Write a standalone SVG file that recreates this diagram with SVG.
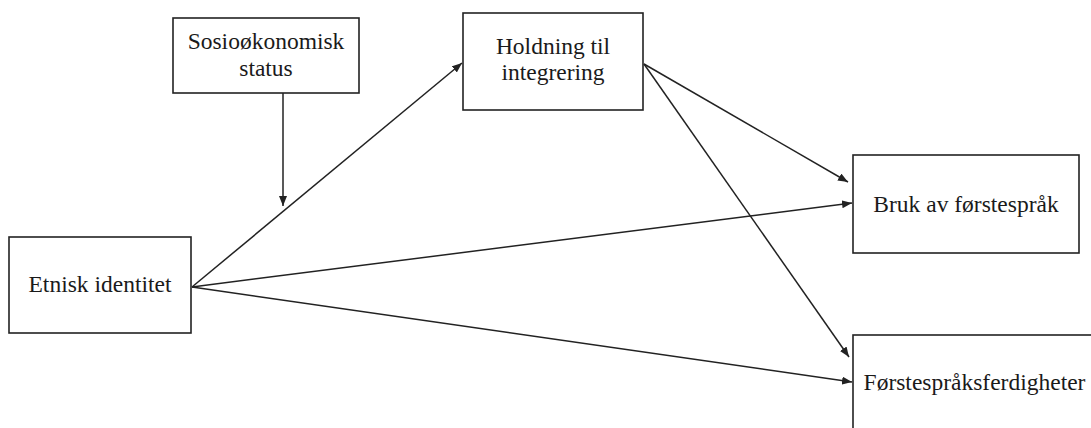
<svg xmlns="http://www.w3.org/2000/svg" width="1091" height="428" viewBox="0 0 1091 428">
<defs>
<style>
.box{fill:#fff;stroke:#222;stroke-width:1.6}
.t{font-family:"Liberation Serif","Times New Roman",serif;font-size:23.5px;fill:#1a1a1a;text-anchor:middle}
.c{fill:none;stroke:#222;stroke-width:1.5}
</style>
<marker id="ah" viewBox="0 0 10 8" refX="10" refY="4" markerWidth="10" markerHeight="8" markerUnits="userSpaceOnUse" orient="auto">
<path d="M0,0 L10,4 L0,8 Z" fill="#222"/>
</marker>
</defs>
<rect width="1091" height="428" fill="#fff"/>
<g id="connectors">
<line class="c" x1="283" y1="93" x2="283" y2="206" marker-end="url(#ah)"/>
<line class="c" x1="192" y1="287" x2="462" y2="63" marker-end="url(#ah)"/>
<line class="c" x1="192" y1="287" x2="852" y2="203" marker-end="url(#ah)"/>
<line class="c" x1="192" y1="287" x2="852" y2="382" marker-end="url(#ah)"/>
<line class="c" x1="644" y1="64" x2="848" y2="182" marker-end="url(#ah)"/>
<line class="c" x1="644" y1="64" x2="849" y2="357" marker-end="url(#ah)"/>
</g>
<g id="sosio">
<rect class="box" x="173" y="18" width="186" height="75"/>
<text class="t" x="266" y="49">Sosioøkonomisk</text>
<text class="t" x="266" y="76">status</text>
</g>
<g id="holdning">
<rect class="box" x="463" y="13" width="180" height="97"/>
<text class="t" x="553" y="54">Holdning til</text>
<text class="t" x="553" y="80">integrering</text>
</g>
<g id="etnisk">
<rect class="box" x="9" y="237" width="182" height="96"/>
<text class="t" x="100" y="292">Etnisk identitet</text>
</g>
<g id="bruk">
<rect class="box" x="853" y="155" width="226" height="98"/>
<text class="t" x="966" y="212">Bruk av førstespråk</text>
</g>
<g id="ferdigheter">
<rect class="box" x="853" y="335" width="250" height="110"/>
<text class="t" x="974.5" y="390">Førstespråksferdigheter</text>
</g>
</svg>
